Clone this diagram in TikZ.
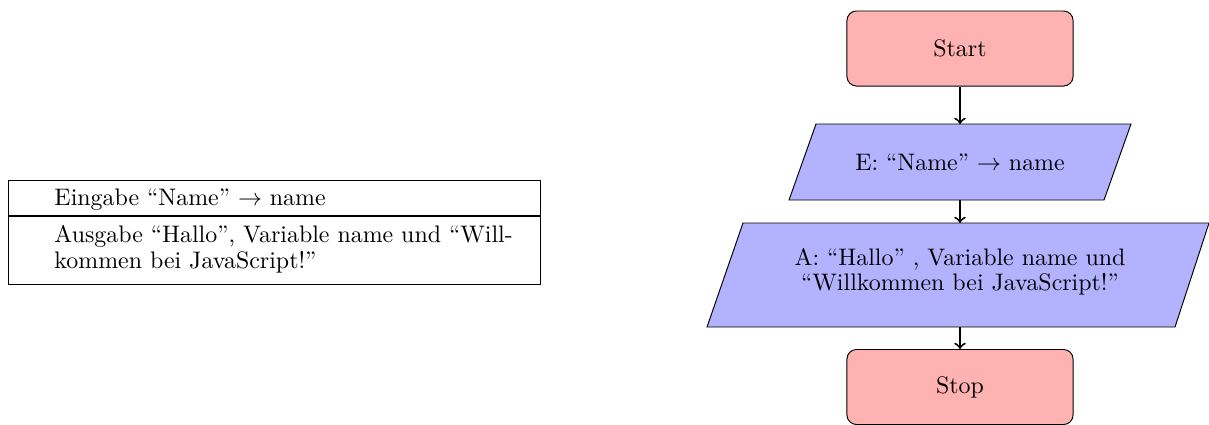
\documentclass[tikz,border=0pt]{standalone}
\usetikzlibrary{arrows}
\tikzset{
  term/.style={draw, fill=red!30, rounded corners=4pt, minimum width=94.6pt, minimum height=31.4pt, inner sep=0pt},
  io/.style={draw, fill=blue!30},
  lbl/.style={inner sep=0pt, align=center},
  arr/.style={->, thick},
  cell/.style={inner sep=0pt, anchor=base west, align=left}
}
\begin{document}
\begin{tikzpicture}[x=0.4184pt,y=-0.4184pt]
\useasboundingbox (0,0) rectangle (1209,424);
% left structogram
\draw (8,180) rectangle (540,284);
\draw[line width=0.8pt] (8,216) -- (540,216);
\node[cell] (in) at (54,205) {Eingabe “Name” $\rightarrow$ name};
\node[cell] (out1) at (54,242) {Ausgabe “Hallo”, Variable name und “Will-};
\node[cell] (out2) at (54,268) {kommen bei JavaScript!”};
% flowchart
\node[term] (start) at (960,48.5) {Start};
\draw[io] (816,124) -- (1131,124) -- (1104,200) -- (789,200) -- cycle;
\coordinate (eN) at (960,124);
\coordinate (eS) at (960,200);
\node[lbl] (e) at (960,162) {E: “Name” $\rightarrow$ name};
\draw[io] (743,223) -- (1209,223) -- (1175,327) -- (707,327) -- cycle;
\coordinate (aN) at (960,223);
\coordinate (aS) at (960,327);
\node[lbl, font={\fontsize{10pt}{10.5pt}\selectfont}] (a) at (960,272) {A: “Hallo” , Variable name und\\“Willkommen bei JavaScript!”};
\node[term] (stop) at (960,387) {Stop};
\draw[arr] (start) -- (eN);
\draw[arr] (eS) -- (aN);
\draw[arr] (aS) -- (stop);
\end{tikzpicture}
\end{document}
